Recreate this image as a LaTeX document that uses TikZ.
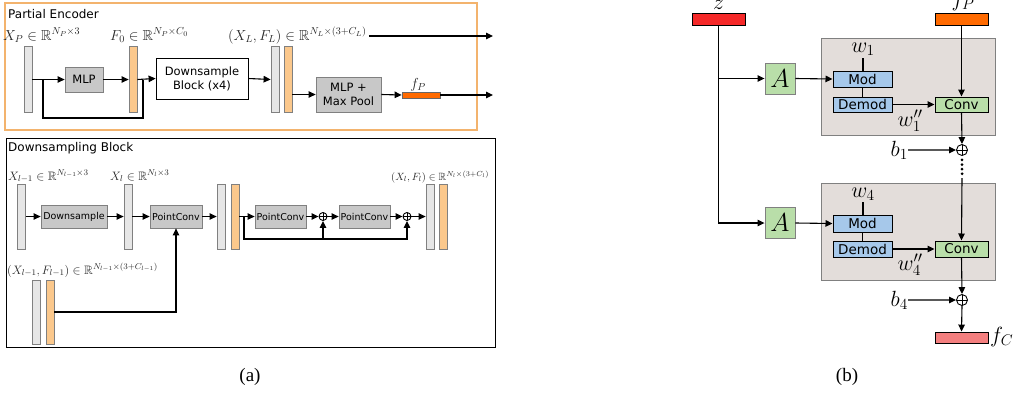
\RequirePackage{fix-cm}
\documentclass[tikz,border=0pt]{standalone}
\usepackage{amsmath, amssymb}
\usepackage{fontspec}
\newfontfamily\dejavu{DejaVu Sans}
\newfontfamily\timesr{Liberation Serif}
\usetikzlibrary{positioning, arrows.meta, calc}
\definecolor{barGray}{HTML}{E6E6E6}
\definecolor{barOrange}{HTML}{FBC88C}
\definecolor{opGray}{HTML}{C8C8C8}
\definecolor{frameOrange}{HTML}{F3B36D}
\definecolor{zRed}{HTML}{F52828}
\definecolor{fpOrange}{HTML}{FF6A00}
\definecolor{fcPink}{HTML}{F47F7F}
\definecolor{modBg}{HTML}{E3DDDA}
\definecolor{modBlue}{HTML}{A6C8EA}
\definecolor{convGreen}{HTML}{B9DEA9}

\begin{document}
\begin{tikzpicture}[
      x=1pt, y=-1pt,
      every node/.style={inner sep=0pt},
      >={Triangle[length=7pt,width=6.5pt]},
      line/.style={draw, line width=1.1pt},
      conn/.style={line, ->},
      title/.style={font={\dejavu\fontsize{12}{14}\selectfont}},
      lblA/.style={text=black!85, font=\fontsize{14.5}{16}\selectfont},
      lblB/.style={text=black!85, font=\fontsize{12.2}{14}\selectfont},
      bar/.style={draw=black!50, line width=0.8pt, fill=barGray,
                  minimum width=8pt, minimum height=66pt},
      fbar/.style={bar, fill=barOrange},
      op/.style={draw=black!50, line width=0.8pt, fill=opGray, align=center,
                 font={\dejavu\fontsize{11.5}{14}\selectfont}},
      opsmall/.style={op, minimum height=23pt,
                      font={\dejavu\fontsize{9.5}{11}\selectfont}},
      oplus/.style={circle, draw, line width=0.9pt, minimum size=#1, inner sep=0pt,
                    path picture={\draw[line width=0.9pt]
                      (path picture bounding box.north) -- (path picture bounding box.south)
                      (path picture bounding box.west) -- (path picture bounding box.east);}},
      vec/.style={draw, line width=0.9pt, minimum width=53pt, minimum height=12pt},
      modbg/.style={draw=black!50, line width=1pt, fill=modBg,
                    minimum width=174pt, minimum height=97pt},
      modbox/.style={draw, line width=1pt, fill=modBlue, minimum width=59pt,
                     minimum height=16pt, font={\dejavu\fontsize{13.5}{15}\selectfont}},
      convbox/.style={modbox, fill=convGreen, minimum width=53pt},
      abox/.style={draw=black!50, line width=0.9pt, fill=convGreen, minimum width=30pt,
                   minimum height=31pt, font=\fontsize{26}{28}\selectfont},
      math/.style={font=\fontsize{22}{24}\selectfont},
    ]
    \useasboundingbox (0,0) rectangle (1014,394);

    % (a) partial encoder
    \draw[draw=frameOrange, line width=1.3pt] (5,3) rectangle (477,130);
    \node[title, anchor=west] (enctitle) at (8,14) {Partial Encoder};
    \node[bar] (xp) at (28,79.5) {};
    \node[op, minimum width=38pt, minimum height=25pt] (mlp) at (84,79.5) {MLP};
    \node[fbar] (f0) at (133,79.5) {};
    \node[op, draw=black, fill=white, minimum width=92pt, minimum height=41pt]
      (dsblock) at (202,78.5) {Downsample\\Block (x4)};
    \node[bar] (xl) at (275,79.5) {};
    \node[fbar] (fl) at (288,79.5) {};
    \node[op, minimum width=65pt, minimum height=35pt] (mlpmax) at (348.5,94.5) {MLP +\\Max Pool};
    \node[draw=black!60, line width=0.8pt, fill=fpOrange, minimum width=38pt,
          minimum height=6pt] (fp) at (421,95) {};
    \node[lblA, anchor=base west] (xplbl) at (3,40) {$X_P \in \mathbb{R}^{N_P\times 3}$};
    \node[lblA, anchor=base west] (f0lbl) at (110,40) {$F_0 \in \mathbb{R}^{N_P\times C_0}$};
    \node[lblA, anchor=base west] (xllbl) at (228,40) {$(X_L, F_L) \in \mathbb{R}^{N_L\times (3+C_L)}$};
    \node[lblA, anchor=base] (fplbl) at (418,88) {$f_P$};
    \coordinate (xlout) at (493,36);
    \coordinate (fpout) at (493,95);
    \coordinate (skipa) at (43,118);
    \coordinate (skipb) at (143,118);

    \draw[conn] (xp.east) -- (mlp.west);
    \draw[conn] (mlp.west -| mlp.east) -- (f0.west);
    \draw[line] (xp.east -| skipa) -- (skipa) -- (skipb) -- (skipb |- f0.east);
    \draw[conn] (f0.east) -- (dsblock.west);
    \draw[conn] (dsblock.east) -- (xl.west);
    \draw[conn] (fl.east |- mlpmax.west) -- (mlpmax.west);
    \draw[conn] (mlpmax.east) -- (fp.west);
    \draw[conn] (fp.east) -- (fpout);
    \draw[conn, shorten <=2pt] (xllbl.east |- xlout) -- (xlout);

    % (a) downsampling block
    \draw[line width=0.9pt] (6,138) rectangle (495,347);
    \node[title, anchor=west] (dstitle) at (8,148.5) {Downsampling Block};
    \node[bar, minimum height=65pt] (xprev) at (21.5,216.5) {};
    \node[opsmall, minimum width=66pt] (down) at (74,216.5) {Downsample};
    \node[bar, minimum height=65pt] (xcur) at (128,216.5) {};
    \node[opsmall, minimum width=52pt] (pc1) at (176,216.5) {PointConv};
    \node[bar, minimum height=65pt] (xmid) at (221,216.5) {};
    \node[fbar, minimum height=65pt] (fmid) at (235,216.5) {};
    \node[opsmall, minimum width=51pt] (pc2) at (280.5,216.5) {PointConv};
    \node[oplus=8pt] (sum1) at (323,216.5) {};
    \node[opsmall, minimum width=51pt] (pc3) at (364.5,216.5) {PointConv};
    \node[oplus=8pt] (sum2) at (407,216.5) {};
    \node[bar, minimum height=65pt] (xout) at (430,216.5) {};
    \node[fbar, minimum height=65pt] (fout) at (443,216.5) {};
    \node[bar, minimum height=64pt] (xin) at (36.5,312) {};
    \node[fbar, minimum height=64pt] (fin) at (50,312) {};
    \node[lblB, anchor=base west] (xprevlbl) at (8,180) {$X_{l-1} \in \mathbb{R}^{N_{l-1}\times 3}$};
    \node[lblB, anchor=base west] (xcurlbl) at (110,180) {$X_{l} \in \mathbb{R}^{N_{l}\times 3}$};
    \node[lblB, anchor=base west, font=\fontsize{10.5}{12}\selectfont]
      (xoutlbl) at (391,180) {$(X_l, F_l) \in \mathbb{R}^{N_l\times (3+C_l)}$};
    \node[lblB, anchor=base west] (xinlbl) at (7,274)
      {$(X_{l-1}, F_{l-1}) \in \mathbb{R}^{N_{l-1}\times (3+C_{l-1})}$};
    \coordinate (skipc) at (244,239);

    \draw[conn] (xprev.east) -- (down.west);
    \draw[conn] (down.east) -- (xcur.west);
    \draw[conn] (xcur.east) -- (pc1.west);
    \draw[conn] (pc1.east) -- (xmid.west);
    \draw[conn] (fmid.east) -- (pc2.west);
    \draw[conn] (pc2.east) -- (sum1.west);
    \draw[conn] (sum1.east) -- (pc3.west);
    \draw[conn] (pc3.east) -- (sum2.west);
    \draw[conn] (sum2.east) -- (xout.west);
    \draw[conn] (fmid.east -| skipc) -- (skipc) -| (sum2.south);
    \draw[conn] (skipc -| sum1) -- (sum1.south);
    \draw[conn] (fin.east) -| (pc1.south);

    % (b) generator
    \node[vec, fill=zRed] (zvec) at (718.5,19) {};
    \node[vec, fill=fpOrange] (fpvec) at (961.5,19) {};
    \node[math, anchor=base] (zlbl) at (718.5,9) {$z$};
    \node[math, anchor=base] (fpvlbl) at (963,6) {$f_P$};
    \node[abox] (aff1) at (780,78.5) {$A$};
    \node[abox] (aff2) at (780,223) {$A$};
    % block 1
    \node[modbg] (blk1) at (908,86.5) {};
    \node[modbox] (mod1) at (862.5,79) {Mod};
    \node[modbox, minimum height=15pt] (demod1) at (862.5,104.5) {Demod};
    \node[convbox, minimum height=15pt] (conv1) at (961.5,104.5) {Conv};
    \node[math, anchor=base] (w1) at (863,52) {$w_1$};
    \node[math, anchor=base] (w1b) at (910,126) {$w_1''$};
    \node[oplus=11pt] (add1) at (962,150) {};
    \node[math, anchor=base east] (b1) at (908,156) {$b_1$};
    % block 4
    \node[modbg] (blk2) at (908,231.5) {};
    \node[modbox, minimum height=17pt] (mod2) at (862.5,223.5) {Mod};
    \node[modbox] (demod2) at (862.5,249) {Demod};
    \node[convbox] (conv2) at (961.5,249) {Conv};
    \node[math, anchor=base] (w4) at (863,197) {$w_4$};
    \node[math, anchor=base] (w4b) at (910,270) {$w_4''$};
    \node[oplus=11pt] (add2) at (962,300) {};
    \node[math, anchor=base east] (b4) at (908,306) {$b_4$};
    \node[vec, fill=fcPink, minimum height=11pt] (fcvec) at (961.5,337.5) {};
    \node[math, anchor=base west] (fclbl) at (990,342) {$f_C$};
    \coordinate (dotend) at (962,178);

    \draw[conn] (zvec.south) |- (aff2.west);
    \draw[conn] (zvec.south |- aff1.west) -- (aff1.west);
    \draw[conn] (aff1.east) -- (mod1.west);
    \draw[conn] (aff2.east) -- (mod2.west);
    \draw[line] (w1.south |- mod1.north) -- ++(0,-13);
    \draw[line] (mod1.south) -- (demod1.north);
    \draw[conn] (demod1.east) -- (conv1.west);
    \draw[conn] (fpvec.south) -- (conv1.north);
    \draw[conn] (conv1.south) -- (add1.north);
    \draw[conn] (b1.east) -- (add1.west);
    \draw[line width=3pt, line cap=round, dash pattern=on 0pt off 4.6pt]
      (add1.south) ++(0,4) -- (dotend);
    \draw[conn] (dotend) -- (conv2.north);
    \draw[line] (w4.south |- mod2.north) -- ++(0,-13);
    \draw[line] (mod2.south) -- (demod2.north);
    \draw[conn] (demod2.east) -- (conv2.west);
    \draw[conn] (conv2.south) -- (add2.north);
    \draw[conn] (b4.east) -- (add2.west);
    \draw[conn] (add2.south) -- (fcvec.north);

    % captions
    \node[font={\timesr\fontsize{19}{21}\selectfont}] (capa) at (250,377) {(a)};
    \node[font={\timesr\fontsize{19}{21}\selectfont}] (capb) at (847,377) {(b)};
  \end{tikzpicture}
\end{document}
